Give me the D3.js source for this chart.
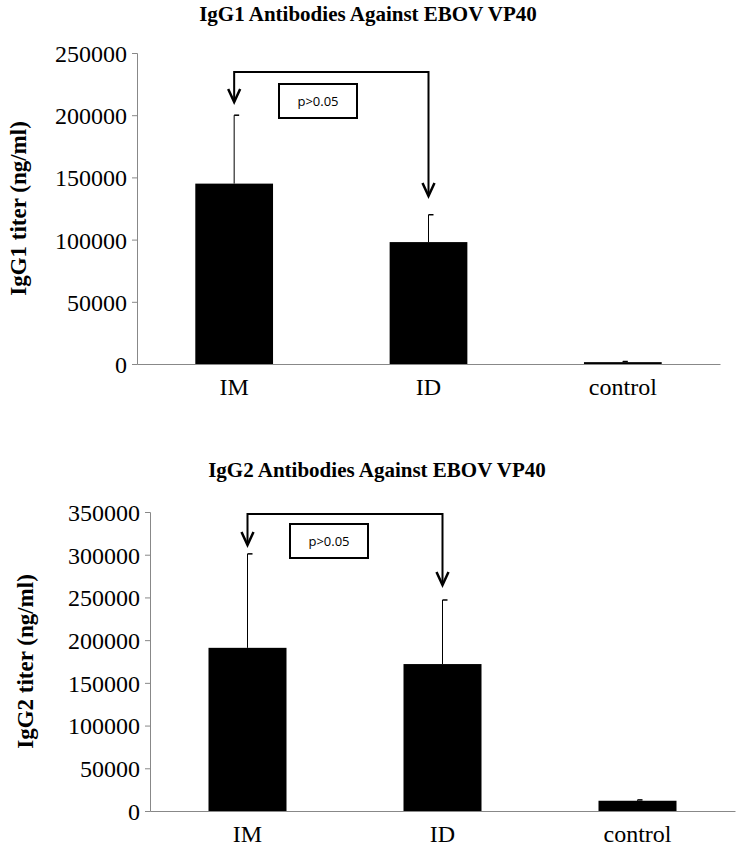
<!DOCTYPE html>
<html><head><meta charset="utf-8">
<script src="https://cdn.jsdelivr.net/npm/d3@7"></script>
<style>body{margin:0;background:#fff} text{font-family:"Liberation Serif","Times New Roman",serif}</style>
</head><body>
<svg id="chart" width="739" height="867"></svg>
<script>
const groups = ["IM", "ID", "control"];
const igg1Means = [145000, 98000, 1500];
const igg1Upper = [200000, 120000, 2000];
const igg2Means = [191000, 172000, 12000];
const igg2Upper = [301000, 247000, 13000];
const igg1Ticks = [0, 50000, 100000, 150000, 200000, 250000];
const igg2Ticks = [0, 50000, 100000, 150000, 200000, 250000, 300000, 350000];

const svg = d3.select("#chart");
const serif = '"Liberation Serif", "Times New Roman", serif';

function panel(cfg) {
  const g = svg.append("g");
  const x = d3.scaleBand().domain(groups).range([cfg.left, cfg.right]).paddingInner(0.6).paddingOuter(0.3);
  const y = d3.scaleLinear().domain([0, cfg.max]).range([cfg.bottom, cfg.top]);

  g.append("text").attr("x", cfg.titleX).attr("y", cfg.titleY).attr("text-anchor", "middle")
    .style("font-family", serif).style("font-weight", "bold").style("font-size", "21px")
    .text(cfg.title);

  const ya = g.append("g").attr("transform", `translate(${cfg.left},0)`)
    .call(d3.axisLeft(y).tickValues(cfg.ticks).tickSize(5).tickFormat(d3.format("d")));
  ya.attr("font-family", null);
  ya.select(".domain").attr("stroke", "#888");
  ya.selectAll(".tick line").attr("stroke", "#888");
  ya.selectAll("text").style("font-family", serif).style("font-size", "24px").attr("fill", "#000").attr("dx", -2).attr("dy", "0.35em");

  const xa = g.append("g").attr("transform", `translate(0,${cfg.bottom})`)
    .call(d3.axisBottom(x).tickSize(0).tickPadding(14));
  xa.attr("font-family", null);
  xa.select(".domain").attr("stroke", "#888");
  xa.selectAll("text").style("font-family", serif).style("font-size", "24px").attr("fill", "#000");

  g.append("text").attr("transform", `translate(${cfg.labelX},${(cfg.top + cfg.bottom) / 2}) rotate(-90)`)
    .attr("text-anchor", "middle").style("font-family", serif).style("font-weight", "bold").style("font-size", "23px")
    .text(cfg.ylabel);

  // error bars (upper only)
  g.selectAll(".err").data(groups).enter().append("line")
    .attr("x1", d => x(d) + x.bandwidth() / 2).attr("x2", d => x(d) + x.bandwidth() / 2)
    .attr("y1", (d, i) => y(cfg.means[i])).attr("y2", (d, i) => y(cfg.upper[i]))
    .attr("stroke", "#000").attr("stroke-width", 1);
  g.selectAll(".cap").data(groups).enter().append("line")
    .attr("x1", d => x(d) + x.bandwidth() / 2).attr("x2", d => x(d) + x.bandwidth() / 2 + 5)
    .attr("y1", (d, i) => y(cfg.upper[i])).attr("y2", (d, i) => y(cfg.upper[i]))
    .attr("stroke", "#000").attr("stroke-width", 1.5);

  g.selectAll(".bar").data(groups).enter().append("rect")
    .attr("x", d => x(d)).attr("width", x.bandwidth())
    .attr("y", (d, i) => y(cfg.means[i])).attr("height", (d, i) => cfg.bottom - y(cfg.means[i]))
    .attr("fill", "#000");

  // significance bracket
  const xl = x("IM") + x.bandwidth() / 2, xr = x("ID") + x.bandwidth() / 2;
  g.append("path").attr("d", `M${xl},${cfg.leftTip} V${cfg.arrowY} H${xr} V${cfg.rightTip}`)
    .attr("fill", "none").attr("stroke", "#000").attr("stroke-width", 2);
  [[xl, cfg.leftTip], [xr, cfg.rightTip]].forEach(([ax, ay]) => {
    g.append("path").attr("d", `M${ax - 6},${ay - 13} L${ax},${ay} L${ax + 6},${ay - 13}`)
      .attr("fill", "none").attr("stroke", "#000").attr("stroke-width", 2.5);
  });
  g.append("rect").attr("x", cfg.boxX).attr("y", cfg.boxY).attr("width", 78).attr("height", 34)
    .attr("fill", "#fff").attr("stroke", "#000").attr("stroke-width", 2);
  g.append("text").attr("x", cfg.boxX + 39).attr("y", cfg.boxY + 22).attr("text-anchor", "middle")
    .style("font-family", "'Open Sans', sans-serif").style("font-size", "13px").text("p>0.05");
}

panel({
  title: "IgG1 Antibodies Against EBOV VP40", titleX: 368, titleY: 21,
  ylabel: "IgG1 titer (ng/ml)", labelX: 26,
  left: 137, right: 720, top: 53, bottom: 364, max: 250000, ticks: igg1Ticks,
  means: igg1Means, upper: igg1Upper,
  arrowY: 72, leftTip: 102, rightTip: 196, boxX: 279, boxY: 84
});
panel({
  title: "IgG2 Antibodies Against EBOV VP40", titleX: 377, titleY: 477,
  ylabel: "IgG2 titer (ng/ml)", labelX: 33,
  left: 150, right: 735, top: 512, bottom: 811, max: 350000, ticks: igg2Ticks,
  means: igg2Means, upper: igg2Upper,
  arrowY: 514, leftTip: 545, rightTip: 585, boxX: 290, boxY: 524
});
</script>
</body></html>
